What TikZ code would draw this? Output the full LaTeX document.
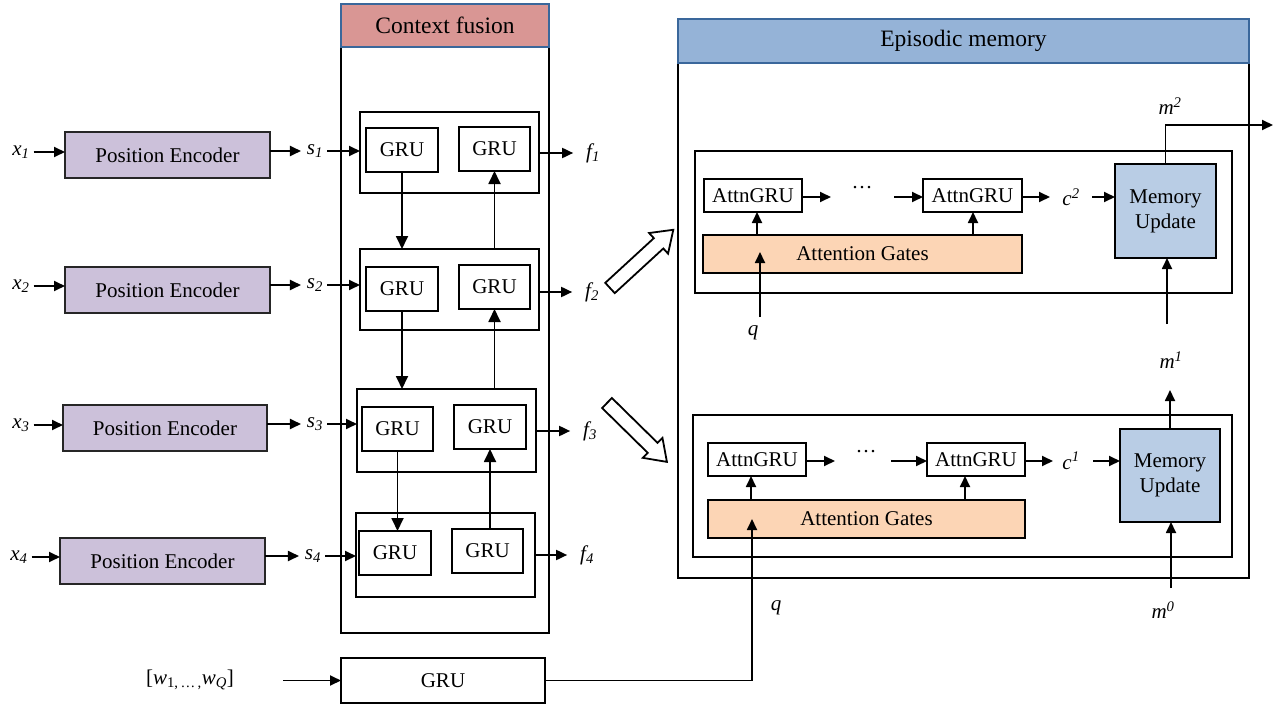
\documentclass[tikz,border=0pt]{standalone}
\usepackage{fontspec}
\setmainfont{Liberation Serif}
\usetikzlibrary{arrows.meta,calc}
\definecolor{pefill}{HTML}{CCC1DA}
\definecolor{cfhead}{HTML}{D99694}
\definecolor{emhead}{HTML}{95B3D7}
\definecolor{headline}{HTML}{3A679B}
\definecolor{mufill}{HTML}{B9CDE5}
\definecolor{agfill}{HTML}{FCD5B5}
\tikzset{
 sz/.style 2 args={minimum width=#1pt, minimum height=#2pt},
 pebox/.style={draw=black!85, line width=1.8pt, fill=pefill},
 grubox/.style={draw, line width=1.8pt, fill=white},
 grpbox/.style={draw, line width=2.6pt},
 outerbox/.style={draw, line width=2.1pt},
 headbox/.style={draw=headline, line width=1.8pt, font=\fontsize{23.5}{26}\selectfont},
 blockbox/.style={draw, line width=2.6pt},
 attnbox/.style={draw, line width=1.8pt, fill=white},
 gatebox/.style={draw, line width=1.8pt, fill=agfill},
 mubox/.style={draw, line width=1.8pt, fill=mufill, align=center, font=\fontsize{21}{25}\selectfont},
 lbl/.style={font=\fontsize{21}{24}\selectfont\itshape},
 arr/.style={-{Triangle[length=11pt,width=10pt]}, line width=1.8pt},
 bigarr/.style={-{Triangle[length=13pt,width=12pt]}, line width=1.8pt},
 hollow/.style={draw, line width=1.8pt, fill=white},
}
\begin{document}
\begin{tikzpicture}[x=1pt,y=-1pt,
 every node/.style={font=\fontsize{21}{24}\selectfont, inner sep=0pt, outer sep=0pt}]
\useasboundingbox (0,0) rectangle (1279,706);

% ---------- Position encoders ----------
\node[pebox, sz={205}{46}] (pe1) at (167.5,155) {Position Encoder};
\node[pebox, sz={205}{46}] (pe2) at (167.5,290) {Position Encoder};
\node[pebox, sz={204}{46}] (pe3) at (165,428) {Position Encoder};
\node[pebox, sz={205}{46}] (pe4) at (162.5,561) {Position Encoder};

\node[lbl] (x1) at (21,152) {x\textsubscript{1}};
\node[lbl] (x2) at (21,286) {x\textsubscript{2}};
\node[lbl] (x3) at (21,425) {x\textsubscript{3}};
\node[lbl] (x4) at (19,557) {x\textsubscript{4}};
\node[lbl] (s1) at (315,151) {s\textsubscript{1}};
\node[lbl] (s2) at (315,285) {s\textsubscript{2}};
\node[lbl] (s3) at (315,424) {s\textsubscript{3}};
\node[lbl] (s4) at (313,556) {s\textsubscript{4}};

% ---------- Context fusion ----------
\node[outerbox, sz={208}{586}] (cf) at (445,340) {};
\node[headbox, fill=cfhead, sz={208}{43}] (cfh) at (445,25.5) {Context fusion};

\node[grpbox, sz={179}{81}] (g1) at (449.5,152.5) {};
\node[grubox, sz={72}{44}] (g1a) at (402,150) {GRU};
\node[grubox, sz={71}{44}] (g1b) at (494.5,149) {GRU};
\node[grpbox, sz={179}{81}] (g2) at (449.5,289.5) {};
\node[grubox, sz={72}{44}] (g2a) at (402,289) {GRU};
\node[grubox, sz={71}{44}] (g2b) at (494.5,287) {GRU};
\node[grpbox, sz={179}{83}] (g3) at (446.5,430.5) {};
\node[grubox, sz={71}{44}] (g3a) at (397.5,429) {GRU};
\node[grubox, sz={72}{44}] (g3b) at (490,427) {GRU};
\node[grpbox, sz={179}{84}] (g4) at (445.5,555) {};
\node[grubox, sz={72}{44}] (g4a) at (395,553) {GRU};
\node[grubox, sz={71}{44}] (g4b) at (487.5,551) {GRU};

\node[lbl] (f1) at (593,153) {f\textsubscript{1}};
\node[lbl] (f2) at (592,292) {f\textsubscript{2}};
\node[lbl] (f3) at (590,431) {f\textsubscript{3}};
\node[lbl] (f4) at (587,555) {f\textsubscript{4}};

% row arrows
\foreach \i in {1,2,3,4}{
  \draw[arr] ([xshift=4pt]x\i.east) -- (x\i -| pe\i.west);
  \draw[arr] (pe\i.east |- s\i) -- ([xshift=-6pt]s\i.west);
  \draw[arr] ([xshift=4pt]s\i.east) -- (s\i -| g\i.west);
  \draw[arr, shorten >=13pt] (g\i.east |- f\i) -- (f\i.west);
}

% vertical GRU arrows
\draw[bigarr] (g1a.south) -- (g1a.south |- g2.north);
\draw[bigarr] (g1b.south |- g2.north) -- (g1b.south);
\draw[bigarr] (g2a.south) -- (g2a.south |- g3.north);
\draw[bigarr] (g2b.south |- g3.north) -- (g2b.south);
\draw[bigarr] (g3a.south) -- (g3a.south |- g4a.north);
\draw[bigarr] (g3b.south |- g4b.north) -- (g3b.south);

% ---------- hollow arrows ----------
\draw[hollow, shift={(610,288)}, rotate=42.6]
  (0,-7) -- (66,-7) -- (66,-14) -- (86,0) -- (66,14) -- (66,7) -- (0,7) -- cycle;
\draw[hollow, shift={(607,403)}, rotate=-44.5]
  (0,-7) -- (64,-7) -- (64,-14) -- (84,0) -- (64,14) -- (64,7) -- (0,7) -- cycle;

% ---------- Episodic memory ----------
\node[outerbox, sz={571}{515}] (em) at (963.5,320.5) {};
\node[headbox, fill=emhead, sz={571}{44}] (emh) at (963.5,41) {Episodic memory};

% upper block (second pass)
\node[blockbox, sz={537}{142}] (b2) at (963.5,222) {};
\node[attnbox, sz={98}{33}] (a21) at (753,195.5) {AttnGRU};
\node[attnbox, sz={99}{33}] (a22) at (972.5,195.5) {AttnGRU};
\node[gatebox, sz={319}{38}] (ag2) at (862.5,254) {Attention Gates};
\node[mubox, sz={101}{94}] (mu2) at (1165.5,211) {Memory\\Update};
\node (d2) at (862,192) {\raisebox{3pt}{···}};
\node[lbl] (c2) at (1071,197) {c\textsuperscript{2}};
\node[lbl] (m2) at (1170,106) {m\textsuperscript{2}};
\node[lbl] (q2) at (753,333) {q};

\draw[arr] (a21.east |- 0,197) -- ++(29,0);
\draw[arr] ([xshift=-29pt]a22.west |- 0,197) -- (a22.west |- 0,197);
\draw[arr] (a22.east |- 0,197) -- ++(28,0);
\draw[arr] ([xshift=-23pt]mu2.west |- 0,197) -- (mu2.west |- 0,197);
\draw[arr] (ag2.north -| 757,0) -- (a21.south -| 757,0);
\draw[arr] (ag2.north -| 973,0) -- (a22.south -| 973,0);
\coordinate (q2s) at (760,317);
\draw[arr] (q2s) -- (760,252);
\coordinate (m1top) at (1167,324);
\draw[arr] (m1top) -- (m1top |- mu2.south);
\coordinate (m2out) at (1273,125);
\draw[arr] (mu2.north) |- (m2out);

% lower block (first pass)
\node[blockbox, sz={539}{142}] (b1) at (962.5,486) {};
\node[attnbox, sz={98}{33}] (a11) at (757,459.5) {AttnGRU};
\node[attnbox, sz={98}{33}] (a12) at (976,459.5) {AttnGRU};
\node[gatebox, sz={317}{38}] (ag1) at (866.5,519) {Attention Gates};
\node[mubox, sz={100}{93}] (mu1) at (1170,475.5) {Memory\\Update};
\node (d1) at (866,456) {\raisebox{3pt}{···}};
\node[lbl] (c1) at (1071,461) {c\textsuperscript{1}};
\node[lbl] (m1) at (1171,360) {m\textsuperscript{1}};
\node[lbl] (m0) at (1163,610) {m\textsuperscript{0}};
\node[lbl] (q1) at (776,608) {q};

\draw[arr] (a11.east |- 0,461) -- ++(29,0);
\draw[arr] ([xshift=-36pt]a12.west |- 0,461) -- (a12.west |- 0,461);
\draw[arr] (a12.east |- 0,461) -- ++(28,0);
\draw[arr] ([xshift=-27pt]mu1.west |- 0,461) -- (mu1.west |- 0,461);
\draw[arr] (ag1.north -| 751,0) -- (a11.south -| 751,0);
\draw[arr] (ag1.north -| 965,0) -- (a12.south -| 965,0);
\draw[arr] (mu1.north) -- ++(0,-39);
\coordinate (m0s) at (1171,588);
\draw[arr] (m0s) -- (m0s |- mu1.south);

% ---------- question GRU ----------
\node[grubox, sz={204}{45}] (qg) at (443,680.5) {GRU};
\node (wq) at (190,680) {[\textit{w}\textsubscript{1,\,…\,,}\textit{w}\textsubscript{\textit{Q}}]};
\coordinate (wqs) at (283,680.5);
\draw[arr] (wqs) -- (qg.west);
\coordinate (qtip) at (752,519);
\draw[arr] (qg.east) -| (qtip);
\end{tikzpicture}
\end{document}
